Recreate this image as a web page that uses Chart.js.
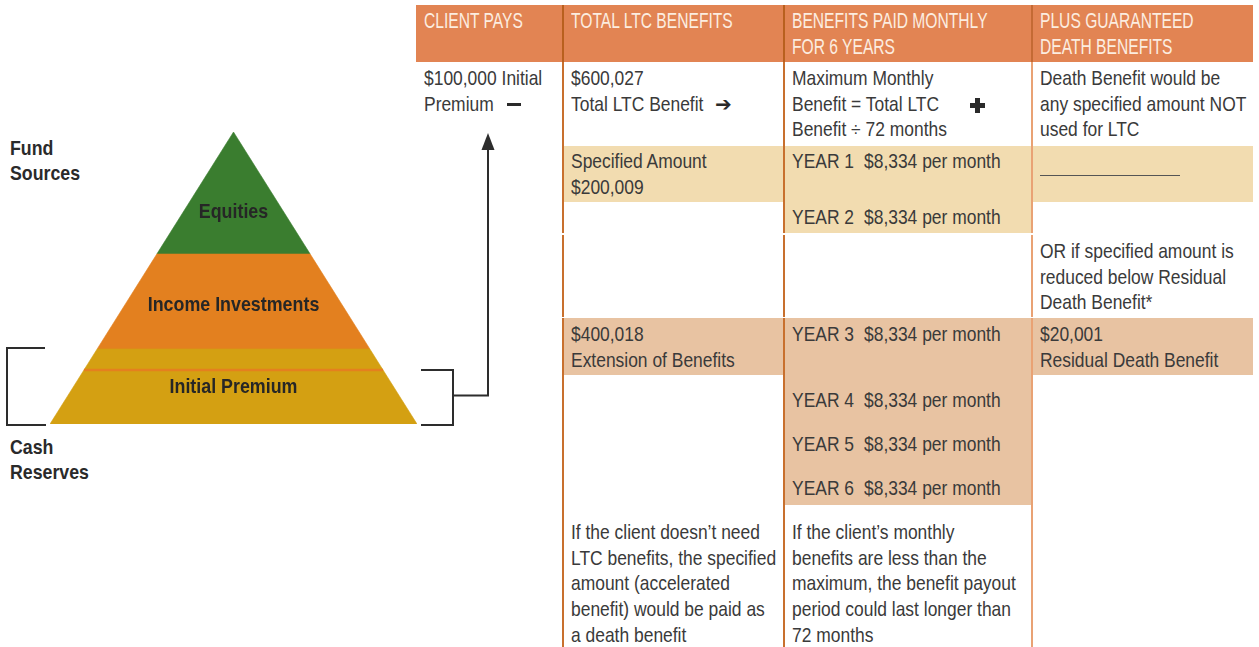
<!DOCTYPE html>
<html><head><meta charset="utf-8">
<script src="https://cdn.jsdelivr.net/npm/chart.js@4.4.0/dist/chart.umd.min.js"></script>
<style>
html,body{margin:0;padding:0;background:#fff;width:1259px;height:647px;overflow:hidden;}
body{position:relative;font-family:"Liberation Sans",Arial,sans-serif;}
#pyr{position:absolute;left:0;top:0;width:560px;height:647px;z-index:5;pointer-events:none;}
.box{position:absolute;}
.t{position:absolute;font-size:21px;line-height:25.6px;color:#3a3a3a;white-space:nowrap;z-index:3;transform:scaleX(0.83);transform-origin:0 0;}
.h{position:absolute;font-size:22px;line-height:26px;color:#FCEDE0;white-space:nowrap;transform:scaleX(0.71);transform-origin:0 0;z-index:3;}
.side{position:absolute;font-weight:bold;font-size:21px;line-height:25px;color:#2a2a2a;white-space:nowrap;transform:scaleX(0.845);transform-origin:0 0;}
.sym{position:absolute;font-family:"DejaVu Sans",sans-serif;font-weight:bold;font-size:20px;line-height:20px;color:#2a2a2a;z-index:3;}
</style></head>
<body>
<canvas id="pyr" width="560" height="647"></canvas>
<script>
// ---------- data ----------
const tierNames = ["Cash Reserves", "Income Investments", "Equities"];
const tierLabels = ["Initial Premium", "Income Investments", "Equities"];
const tierTop = [25.7, 58.2, 100];          // top of each tier, % of pyramid height
const premiumTop = 18.5;                     // top of the Initial Premium band
const sideLabels = [["Fund", "Sources"], ["Cash", "Reserves"]];

const headers = [["CLIENT PAYS"], ["TOTAL LTC BENEFITS"], ["BENEFITS PAID MONTHLY", "FOR 6 YEARS"], ["PLUS GUARANTEED", "DEATH BENEFITS"]];
const initialPremium = 100000;
const totalLTC = 600027;
const specifiedAmount = 200009;
const extensionAmount = 400018;
const residualDeath = 20001;
const payoutMonths = 72;
const years = [1, 2, 3, 4, 5, 6];
const monthlyBenefit = [8334, 8334, 8334, 8334, 8334, 8334];
const noteClient = ["If the client doesn\u2019t need", "LTC benefits, the specified", "amount (accelerated", "benefit) would be paid as", "a death benefit"];
const noteMonthly = ["If the client\u2019s monthly", "benefits are less than the", "maximum, the benefit payout", "period could last longer than", "72 months"];

// ---------- styles / layout ----------
const tierColors = ["#D4A012", "#E3801F", "#3A7D2F"];
const fmt = v => "$" + v.toLocaleString("en-US");
const colX = [416, 563, 784, 1032, 1253];
const LH = 25.6;
const body = document.body;
function box(x, y, w, h, bg, z) {
  const d = document.createElement("div");
  d.className = "box";
  Object.assign(d.style, {left: x + "px", top: y + "px", width: w + "px", height: h + "px", background: bg, zIndex: z || 1});
  body.appendChild(d); return d;
}
function text(x, yc, lines, cls) {
  const d = document.createElement("div");
  d.className = cls || "t";
  d.style.left = x + "px";
  const half = cls === "h" ? 13 : cls === "side" ? 12.5 : cls === "sym" ? 10 : LH / 2;
  d.style.top = (yc - half) + "px";
  d.innerHTML = lines.join("<br>");
  body.appendChild(d); return d;
}

// header
box(colX[0], 5, colX[4] - colX[0], 57, "#E28453", 1);
headers.forEach((h, i) => text(colX[i] + 8, 21, h, "h"));
// cell backgrounds
const light = "#F2DCB0", dark = "#E8C3A2";
box(colX[1], 146, colX[2] - colX[1], 56, light);
box(colX[2], 146, colX[3] - colX[2], 88, light);
box(colX[3], 146, colX[4] - colX[3], 56, light);
box(colX[1], 318, colX[2] - colX[1], 57, dark);
box(colX[2], 318, colX[3] - colX[2], 187, dark);
box(colX[3], 318, colX[4] - colX[3], 57, dark);
// vertical rules
box(colX[1] - 0.75, 5, 1.5, 57, "#B9601E", 2);
box(colX[2] - 0.75, 5, 1.5, 57, "#B9601E", 2);
box(colX[3] - 1, 5, 2, 57, "#C46A34", 2);
box(colX[1] - 0.75, 62, 1.5, 585, "#C8702E", 2);
box(colX[2] - 0.75, 62, 1.5, 585, "#C8702E", 2);
box(colX[3] - 1, 62, 2, 585, "#E9A274", 2);
// white breaks
box(colX[0], 233, colX[4] - colX[0], 1.5, "#fff", 2);
box(colX[0], 316.5, colX[4] - colX[0], 1.5, "#fff", 2);

// texts
const R1 = 78;
text(colX[0] + 8, R1, [fmt(initialPremium) + " Initial", "Premium"]);
box(507, R1 + 24.5, 14, 3, "#2a2a2a", 3);                       // minus sign
text(colX[1] + 8, R1, [fmt(totalLTC), "Total LTC Benefit"]);
text(715, R1 + 26, ["\u2794"], "sym");                            // arrow
text(colX[2] + 8, R1, ["Maximum Monthly", "Benefit = Total LTC", "Benefit \u00F7 " + payoutMonths + " months"]);
box(970, R1 + 25, 15, 5, "#2a2a2a", 3);                          // plus sign
box(975, R1 + 20, 5, 15, "#2a2a2a", 3);
text(colX[3] + 8, R1, ["Death Benefit would be", "any specified amount NOT", "used for LTC"]);
text(colX[1] + 8, 161, ["Specified Amount", fmt(specifiedAmount)]);
box(colX[3] + 8, 175, 140, 1.2, "#555", 3);
text(colX[3] + 8, 251, ["OR if specified amount is", "reduced below Residual", "Death Benefit*"]);
text(colX[1] + 8, 334, [fmt(extensionAmount), "Extension of Benefits"]);
text(colX[3] + 8, 334, [fmt(residualDeath), "Residual Death Benefit"]);
const yearY = [161, 217, 334, 400, 444, 488];
years.forEach((y, i) => {
  text(colX[2] + 8, yearY[i], ["YEAR " + y]);
  text(864, yearY[i], [fmt(monthlyBenefit[i]) + " per month"]);
});
text(colX[1] + 8, 532, noteClient);
text(colX[2] + 8, 532, noteMonthly);
// side labels
text(10, 147.5, sideLabels[0], "side");
text(10, 446.5, sideLabels[1], "side");

// ---------- pyramid chart ----------
const halfW = h => 1 - h / 100;
const datasets = [];
let prev = 0;
const bounds = [];
tierTop.forEach((top, i) => {
  const pts = top >= 100
    ? [{x: -halfW(prev), y: prev}, {x: 0, y: top}, {x: halfW(prev), y: prev}]
    : [{x: -halfW(prev), y: prev}, {x: -halfW(top), y: top}, {x: halfW(top), y: top}, {x: halfW(prev), y: prev}];
  datasets.push({label: tierNames[i], data: pts, showLine: true, fill: {value: prev},
    backgroundColor: tierColors[i], borderColor: tierColors[i], borderWidth: 0.6, pointRadius: 0, order: 2 + i});
  bounds.push([prev, top]);
  prev = top;
});
datasets.push({label: "Initial Premium", data: [{x: -halfW(premiumTop), y: premiumTop}, {x: halfW(premiumTop), y: premiumTop}],
  showLine: true, fill: false, borderColor: "#E4801F", borderWidth: 2.5, pointRadius: 0, order: 0});

const overlay = {
  id: "overlay",
  afterDatasetsDraw(chart) {
    const {ctx, chartArea: a, scales: {x, y}} = chart;
    ctx.save();
    ctx.fillStyle = "#262626";
    ctx.font = "bold 21px 'Liberation Sans', Arial, sans-serif";
    ctx.textAlign = "center"; ctx.textBaseline = "middle";
    bounds.forEach(([b, t], i) => {
      const wb = halfW(b), wt = halfW(t);
      const cy = b + (t - b) / 3 * (wb + 2 * wt) / (wb + wt);
      ctx.save();
      ctx.translate(x.getPixelForValue(0), y.getPixelForValue(cy) - 1);
      ctx.scale(0.85, 1);
      ctx.fillText(tierLabels[i], 0, 0);
      ctx.restore();
    });
    ctx.strokeStyle = "#2d2d2d"; ctx.lineWidth = 2; ctx.lineCap = "butt";
    // left bracket (cash reserves)
    const lt = y.getPixelForValue(tierTop[0]) - 1, lb = y.getPixelForValue(0) + 1;
    ctx.beginPath();
    ctx.moveTo(a.left - 5, lt); ctx.lineTo(a.left - 43, lt); ctx.lineTo(a.left - 43, lb); ctx.lineTo(a.left - 4, lb);
    ctx.stroke();
    // right bracket (initial premium)
    const rt = y.getPixelForValue(premiumTop), rb = y.getPixelForValue(0) + 1;
    const xr = a.right + 36, xa = a.right + 71, mid = (rt + rb) / 2 - 2;
    ctx.beginPath();
    ctx.moveTo(a.right + 4, rt); ctx.lineTo(xr, rt); ctx.lineTo(xr, rb); ctx.lineTo(a.right + 4, rb);
    ctx.moveTo(xr, mid); ctx.lineTo(xa, mid); ctx.lineTo(xa, y.getPixelForValue(100) + 14);
    ctx.stroke();
    const tip = y.getPixelForValue(100) + 1;
    ctx.fillStyle = "#2d2d2d";
    ctx.beginPath();
    ctx.moveTo(xa, tip); ctx.lineTo(xa - 6.5, tip + 17); ctx.lineTo(xa + 6.5, tip + 17); ctx.closePath();
    ctx.fill();
    ctx.restore();
  }
};

new Chart(document.getElementById("pyr"), {
  type: "scatter",
  data: {datasets},
  options: {
    responsive: false, animation: false, devicePixelRatio: 1,
    layout: {padding: {left: 50, right: 143, top: 132, bottom: 223}},
    scales: {x: {type: "linear", min: -1, max: 1, display: false}, y: {type: "linear", min: 0, max: 100, display: false}},
    plugins: {legend: {display: false}, tooltip: {enabled: false}},
    elements: {line: {tension: 0}}
  },
  plugins: [overlay]
});
</script>
</body></html>
